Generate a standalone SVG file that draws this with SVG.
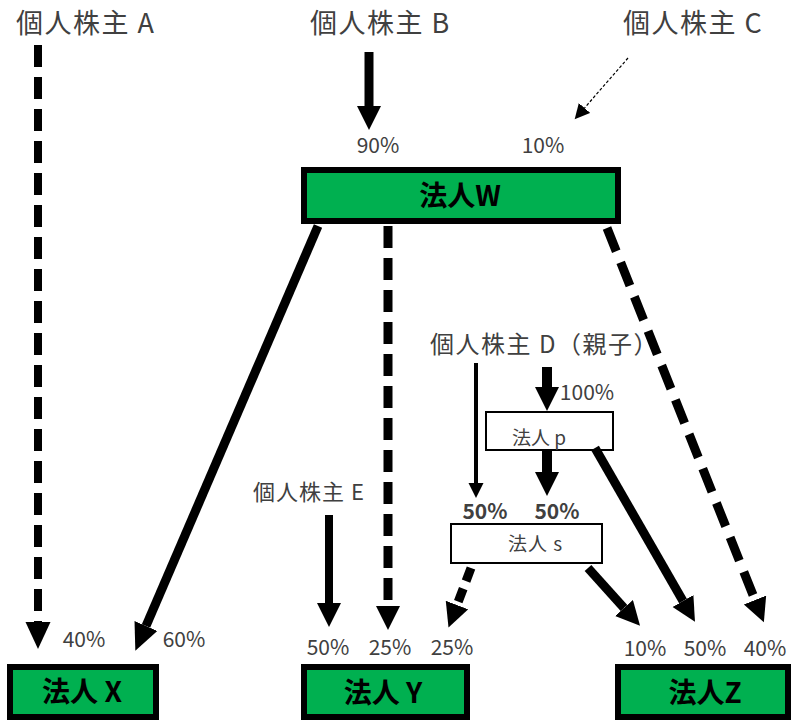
<svg xmlns="http://www.w3.org/2000/svg" width="791" height="720" viewBox="0 0 791 720">
<style>
  .lbl { font-family: "Noto Sans CJK JP", "Noto Sans", sans-serif; fill: #404040; }
  .title { font-size: 27px; letter-spacing: 1.5px; }
  .pct { font-size: 21px; text-anchor: middle; }
  .box { fill: #00B050; stroke: #000; stroke-width: 6; }
  .boxt { font-family: "Noto Sans CJK JP", "Noto Sans", sans-serif; font-weight: bold; font-size: 28px; fill: #000; text-anchor: middle; }
  .wbox { fill: #fff; stroke: #000; stroke-width: 2; }
  .wboxt { font-family: "Noto Sans CJK JP", "Noto Sans", sans-serif; font-size: 19px; fill: #404040; }
  .c { stroke: #000; fill: none; }
</style>
<defs>
  <marker id="big" markerUnits="userSpaceOnUse" markerWidth="28" markerHeight="26" refX="0" refY="12.5" orient="auto">
    <path d="M0,0 L27,12.5 L0,25 Z" fill="#000"/>
  </marker>
  <marker id="mid" markerUnits="userSpaceOnUse" markerWidth="26" markerHeight="26" refX="0" refY="12" orient="auto">
    <path d="M0,0 L24,12 L0,24 Z" fill="#000"/>
  </marker>
  <marker id="small" markerUnits="userSpaceOnUse" markerWidth="16" markerHeight="16" refX="0" refY="7.5" orient="auto">
    <path d="M0,0 L15,7.5 L0,15 Z" fill="#000"/>
  </marker>
</defs>

<g id="shareholderA"><text class="lbl title" x="16" y="33">個人株主 A</text></g>
<g id="shareholderB"><text class="lbl title" x="310" y="33">個人株主 B</text></g>
<g id="shareholderC"><text class="lbl title" x="623" y="33">個人株主 C</text></g>
<g id="shareholderD"><text class="lbl" font-size="24" letter-spacing="1.5" x="430" y="353">個人株主 D（親子）</text></g>
<g id="shareholderE"><text class="lbl" font-size="22" letter-spacing="1" x="253" y="500">個人株主 E</text></g>

<g id="corpW">
  <rect class="box" x="304" y="170" width="314" height="51"/>
  <text class="boxt" x="460" y="206">法人W</text>
</g>
<g id="corpP">
  <rect class="wbox" x="486" y="412" width="127" height="38"/>
  <text class="wboxt" x="512" y="445">法人 p</text>
</g>
<g id="corpS">
  <rect class="wbox" x="451" y="524" width="151" height="39"/>
  <text class="wboxt" font-size="22" letter-spacing="1" x="508" y="551">法人 s</text>
</g>
<g id="corpX">
  <rect class="box" x="10" y="667" width="146" height="50"/>
  <text class="boxt" x="82" y="702">法人 X</text>
</g>
<g id="corpY">
  <rect class="box" x="304" y="667" width="163" height="50"/>
  <text class="boxt" x="383" y="703">法人 Y</text>
</g>
<g id="corpZ">
  <rect class="box" x="618" y="667" width="170" height="50"/>
  <text class="boxt" x="705" y="703">法人Z</text>
</g>

<g id="percentages">
  <text class="lbl pct" x="378" y="153">90%</text>
  <text class="lbl pct" x="543" y="153">10%</text>
  <text class="lbl pct" x="84" y="647">40%</text>
  <text class="lbl pct" x="184" y="647">60%</text>
  <text class="lbl pct" x="328" y="655">50%</text>
  <text class="lbl pct" x="390" y="655">25%</text>
  <text class="lbl pct" x="452" y="655">25%</text>
  <text class="lbl pct" x="645" y="656">10%</text>
  <text class="lbl pct" x="705" y="656">50%</text>
  <text class="lbl pct" x="765" y="656">40%</text>
  <text class="lbl pct" x="587" y="400">100%</text>
  <text class="lbl pct" x="485" y="519" font-weight="bold" fill="#262626">50%</text>
  <text class="lbl pct" x="557" y="519" font-weight="bold" fill="#262626">50%</text>
</g>

<g id="connectors">
  <line class="c" x1="38" y1="45" x2="38" y2="622" stroke-width="8" stroke-dasharray="22 10" marker-end="url(#big)"/>
  <line class="c" x1="369" y1="52" x2="369" y2="106" stroke-width="9" marker-end="url(#mid)"/>
  <line class="c" x1="628" y1="58" x2="584.5" y2="108" stroke-width="1.2" stroke-dasharray="3 2" marker-end="url(#small)"/>
  <line class="c" x1="318" y1="226" x2="146" y2="626" stroke-width="9" marker-end="url(#big)"/>
  <line class="c" x1="388" y1="226" x2="388" y2="606" stroke-width="9" stroke-dasharray="22 10" marker-end="url(#mid)"/>
  <line class="c" x1="607" y1="228" x2="755" y2="600" stroke-width="9" stroke-dasharray="25 12" marker-end="url(#mid)"/>
  <line class="c" x1="329" y1="515" x2="329" y2="603" stroke-width="8" marker-end="url(#mid)"/>
  <line class="c" x1="476" y1="363" x2="476" y2="483" stroke-width="4" marker-end="url(#small)"/>
  <line class="c" x1="547" y1="367" x2="547" y2="387" stroke-width="10" marker-end="url(#mid)"/>
  <line class="c" x1="547" y1="450" x2="547" y2="472" stroke-width="10" marker-end="url(#mid)"/>
  <line class="c" x1="471" y1="568" x2="457" y2="605" stroke-width="9" stroke-dasharray="14 8" marker-end="url(#mid)"/>
  <line class="c" x1="588" y1="568" x2="624" y2="608" stroke-width="9" marker-end="url(#mid)"/>
  <line class="c" x1="595" y1="448" x2="683" y2="601" stroke-width="9" marker-end="url(#mid)"/>
</g>
</svg>
